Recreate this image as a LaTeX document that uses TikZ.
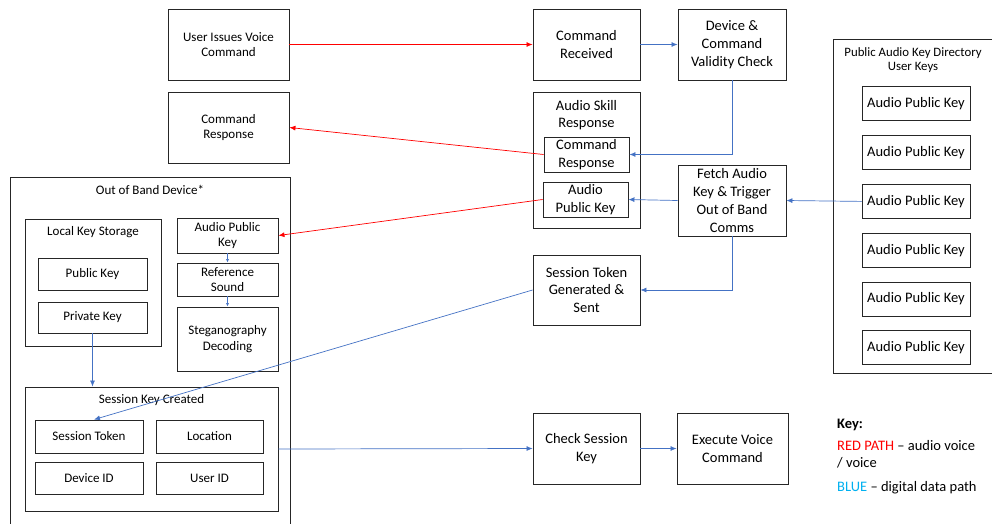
\documentclass[tikz,border=0pt]{standalone}
\usepackage{fontspec}
\setmainfont{Carlito}
\usetikzlibrary{arrows.meta}
\definecolor{pathblue}{HTML}{4472C4}
\definecolor{keyblue}{HTML}{00B0F0}
\definecolor{pathred}{HTML}{FF0000}
\begin{document}
\begin{tikzpicture}[x=1pt, y=-1pt,
    box/.style={draw=black!85, line width=0.9pt, align=center, inner sep=0pt,
      font=\fontsize{13}{15.5}\selectfont},
    midbox/.style={box, font=\fontsize{14.5}{17.7}\selectfont},
    title/.style={align=center, inner sep=0pt, font=\fontsize{13}{15.5}\selectfont},
    redpath/.style={draw=pathred, line width=0.7pt, -{Latex[length=6pt,width=5pt]}},
    bluepath/.style={draw=pathblue, line width=0.7pt, -{Latex[length=6pt,width=5pt]}},
    tinypath/.style={draw=pathblue, line width=0.6pt, -{Latex[length=3.5pt,width=3pt]}}]
    \useasboundingbox (0,0) rectangle (992,523);
    % voice command side
    \node[box, minimum width=121pt, minimum height=71pt] (user) at (228.5,44.5) {User Issues Voice\\Command};
    \node[box, minimum width=121pt, minimum height=71pt] (cmdresp) at (228.5,127.5) {Command\\Response};
    \node[midbox, minimum width=107pt, minimum height=71pt] (cmdrec) at (586.5,44.5) {Command\\Received};
    \node[midbox, minimum width=108pt, minimum height=71pt] (devchk) at (732,44.5) {Device \&\\Command\\Validity Check};
    % audio skill response
    \node[box, minimum width=107pt, minimum height=136pt] (ask) at (586.5,160) {};
    \node[title, font=\fontsize{14.5}{17.7}\selectfont] (askT) at (586.5,115) {Audio Skill\\Response};
    \node[midbox, minimum width=85pt, minimum height=35pt] (askCR) at (586.5,154.5) {Command\\Response};
    \node[midbox, minimum width=85pt, minimum height=35pt] (askAPK) at (585.5,199.5) {Audio\\Public Key};
    \node[midbox, minimum width=108pt, minimum height=71pt] (fetch) at (732,200.5) {Fetch Audio\\Key \& Trigger\\Out of Band\\Comms};
    \node[midbox, minimum width=107pt, minimum height=70pt] (stg) at (586.5,290) {Session Token\\Generated \&\\Sent};
    \node[midbox, minimum width=107pt, minimum height=71pt] (chk) at (586.5,448.5) {Check Session\\Key};
    \node[midbox, minimum width=111pt, minimum height=71pt] (exe) at (732.5,448.5) {Execute Voice\\Command};
    % key directory
    \node[box, minimum width=160pt, minimum height=334pt] (dir) at (913,206) {};
    \node[title, font=\fontsize{12.8}{14.5}\selectfont] (dirT) at (913,60) {Public Audio Key Directory\\User Keys};
    \node[midbox, minimum width=108pt, minimum height=34pt] (dk1) at (916,103.8) {Audio Public Key};
    \node[midbox, minimum width=108pt, minimum height=34pt] (dk2) at (916,152.6) {Audio Public Key};
    \node[midbox, minimum width=108pt, minimum height=34pt] (dk3) at (916,201.4) {Audio Public Key};
    \node[midbox, minimum width=108pt, minimum height=34pt] (dk4) at (916,250.2) {Audio Public Key};
    \node[midbox, minimum width=108pt, minimum height=34pt] (dk5) at (916,299) {Audio Public Key};
    \node[midbox, minimum width=108pt, minimum height=34pt] (dk6) at (916,347.8) {Audio Public Key};
    % out of band device
    \node[box, minimum width=280pt, minimum height=353pt] (oob) at (150,353.5) {};
    \node[title] (oobT) at (150,190) {Out of Band Device*};
    \node[box, minimum width=136pt, minimum height=127pt] (lks) at (93,282.5) {};
    \node[title] (lksT) at (93,232) {Local Key Storage};
    \node[box, minimum width=109pt, minimum height=32pt] (pubk) at (92.5,274) {Public Key};
    \node[box, minimum width=109pt, minimum height=31pt] (privk) at (92.5,317.5) {Private Key};
    \node[box, minimum width=101pt, minimum height=35pt] (oobAPK) at (227.5,235.5) {Audio Public\\Key};
    \node[box, minimum width=101pt, minimum height=33pt] (ref) at (227.5,279.5) {Reference\\Sound};
    \node[box, minimum width=101pt, minimum height=64pt] (steg) at (227.5,339) {Steganography\\Decoding};
    \node[box, minimum width=253pt, minimum height=124pt] (skc) at (151.5,449) {};
    \node[title] (skcT) at (151.5,400) {Session Key Created};
    \node[box, minimum width=108pt, minimum height=33pt] (token) at (89,436.5) {Session Token};
    \node[box, minimum width=107pt, minimum height=33pt] (loc) at (209.5,436.5) {Location};
    \node[box, minimum width=108pt, minimum height=32pt] (devid) at (89,478) {Device ID};
    \node[box, minimum width=107pt, minimum height=32pt] (uid) at (209.5,478) {User ID};
    % key
    \node[anchor=west, inner sep=0pt, font=\fontsize{14.5}{17.7}\selectfont\bfseries] (keyT) at (837,425) {Key:};
    \node[anchor=north west, align=left, inner sep=0pt, font=\fontsize{14.5}{17.7}\selectfont] (keyR) at (837,440) {\textcolor{pathred}{RED PATH} -- audio voice\\/ voice};
    \node[anchor=west, inner sep=0pt, font=\fontsize{14.5}{17.7}\selectfont] (keyB) at (837,488) {\textcolor{keyblue}{BLUE} -- digital data path};
    % red paths
    \draw[redpath] (user) -- (cmdrec);
    \draw[redpath] (askCR.west) -- (cmdresp.east);
    \draw[redpath] (askAPK.west) -- (oobAPK.east);
    % blue paths
    \draw[bluepath] (cmdrec) -- (devchk);
    \draw[bluepath] (devchk.south) |- (askCR.east);
    \draw[bluepath] (dk3.west) -- (fetch.east);
    \draw[bluepath] (fetch.west) -- (askAPK.east);
    \draw[bluepath] (fetch.south) |- (stg.east);
    \draw[bluepath] (stg.west) -- ([xshift=5pt]token.north);
    \draw[bluepath] (privk.south) -- (privk.south |- skc.north);
    \draw[bluepath] (skc.east) -- (chk.west);
    \draw[bluepath] (chk) -- (exe);
    \draw[tinypath] (oobAPK) -- (ref);
    \draw[tinypath] (ref) -- (steg);
\end{tikzpicture}
\end{document}
